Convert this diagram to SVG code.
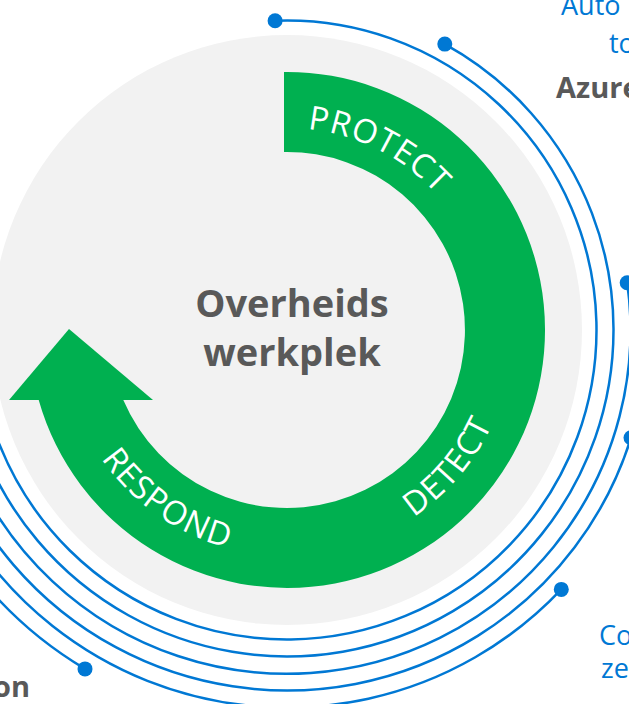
<svg xmlns="http://www.w3.org/2000/svg" xmlns:xlink="http://www.w3.org/1999/xlink" width="629" height="704" viewBox="0 0 629 704">
  <style>
    .arc { fill: none; stroke: #0078d4; stroke-width: 2.5; }
    .dot { fill: #0078d4; }
    .phase { font-family: "Open Sans", "Noto Sans", sans-serif; font-size: 33px; fill: #ffffff; letter-spacing: 1px; }
    .center { font-family: "Open Sans", "Noto Sans", sans-serif; font-size: 38px; font-weight: bold; fill: #595959; }
    .blue { font-family: "Open Sans", "Noto Sans", sans-serif; font-size: 27px; fill: #0078d4; }
    .bold { font-family: "Open Sans", "Noto Sans", sans-serif; font-size: 29px; font-weight: bold; fill: #595959; }
  </style>
  <defs>
    <path id="topPath" d="M 85 330 A 202 202 0 0 1 489 330"/>
    <path id="bottomPath" d="M 61 330 A 226 226 0 0 0 513 330"/>
  </defs>
  <rect width="629" height="704" fill="#ffffff"/>

  <g id="connectors">
    <path class="arc" d="M 275.1 20.7 A 309.5 309.5 0 1 1 -22.5 330"/>
    <path class="arc" d="M 444.8 44.1 A 326.5 326.5 0 1 1 -39.5 330"/>
    <path class="arc" d="M 627.2 282.8 A 343.5 343.5 0 1 1 -56.5 330"/>
    <path class="arc" d="M 631 437.8 A 360.5 360.5 0 0 1 -73.5 330"/>
    <path class="arc" d="M 561.3 589.4 A 377.5 377.5 0 0 1 -90.5 330"/>
    <path class="arc" d="M 85 668.9 A 394.5 394.5 0 0 1 -107.5 330"/>
    <circle class="dot" cx="275.1" cy="20.7" r="7.5"/>
    <circle class="dot" cx="444.8" cy="44.1" r="7.5"/>
    <circle class="dot" cx="627.2" cy="282.8" r="7.5"/>
    <circle class="dot" cx="631" cy="437.8" r="7.5"/>
    <circle class="dot" cx="561.3" cy="589.4" r="7.5"/>
    <circle class="dot" cx="85" cy="668.9" r="7.5"/>
  </g>

  <g id="workplace">
    <circle cx="287" cy="330" r="295" fill="#f2f2f2"/>
    <path d="M 284 72 A 258 258 0 1 1 38.7 400 L 123.3 400 A 178 178 0 1 0 284 152 Z" fill="#00b050"/>
    <polygon points="9,400 69,329 153,400" fill="#00b050"/>
    <text class="center" text-anchor="middle" x="292" y="317">Overheids</text>
    <text class="center" text-anchor="middle" x="292" y="366">werkplek</text>
  </g>

  <g id="protect">
    <text class="phase" text-anchor="middle"><textPath xlink:href="#topPath" href="#topPath" startOffset="412">PROTECT</textPath></text>
  </g>
  <g id="detect">
    <text class="phase" text-anchor="middle"><textPath xlink:href="#bottomPath" href="#bottomPath" startOffset="551">DETECT</textPath></text>
  </g>
  <g id="respond">
    <text class="phase" text-anchor="middle"><textPath xlink:href="#bottomPath" href="#bottomPath" startOffset="216">RESPOND</textPath></text>
  </g>

  <g id="label-top-right">
    <text class="blue" x="561" y="15">Auto</text>
    <text class="blue" x="609" y="53">to</text>
    <text class="bold" x="556" y="98">Azure</text>
  </g>
  <g id="label-bottom-right">
    <text class="blue" x="599" y="645">Co</text>
    <text class="blue" x="601" y="678">ze</text>
  </g>
  <g id="label-bottom-left">
    <text class="bold" x="30" y="697" text-anchor="end">on</text>
  </g>
</svg>
